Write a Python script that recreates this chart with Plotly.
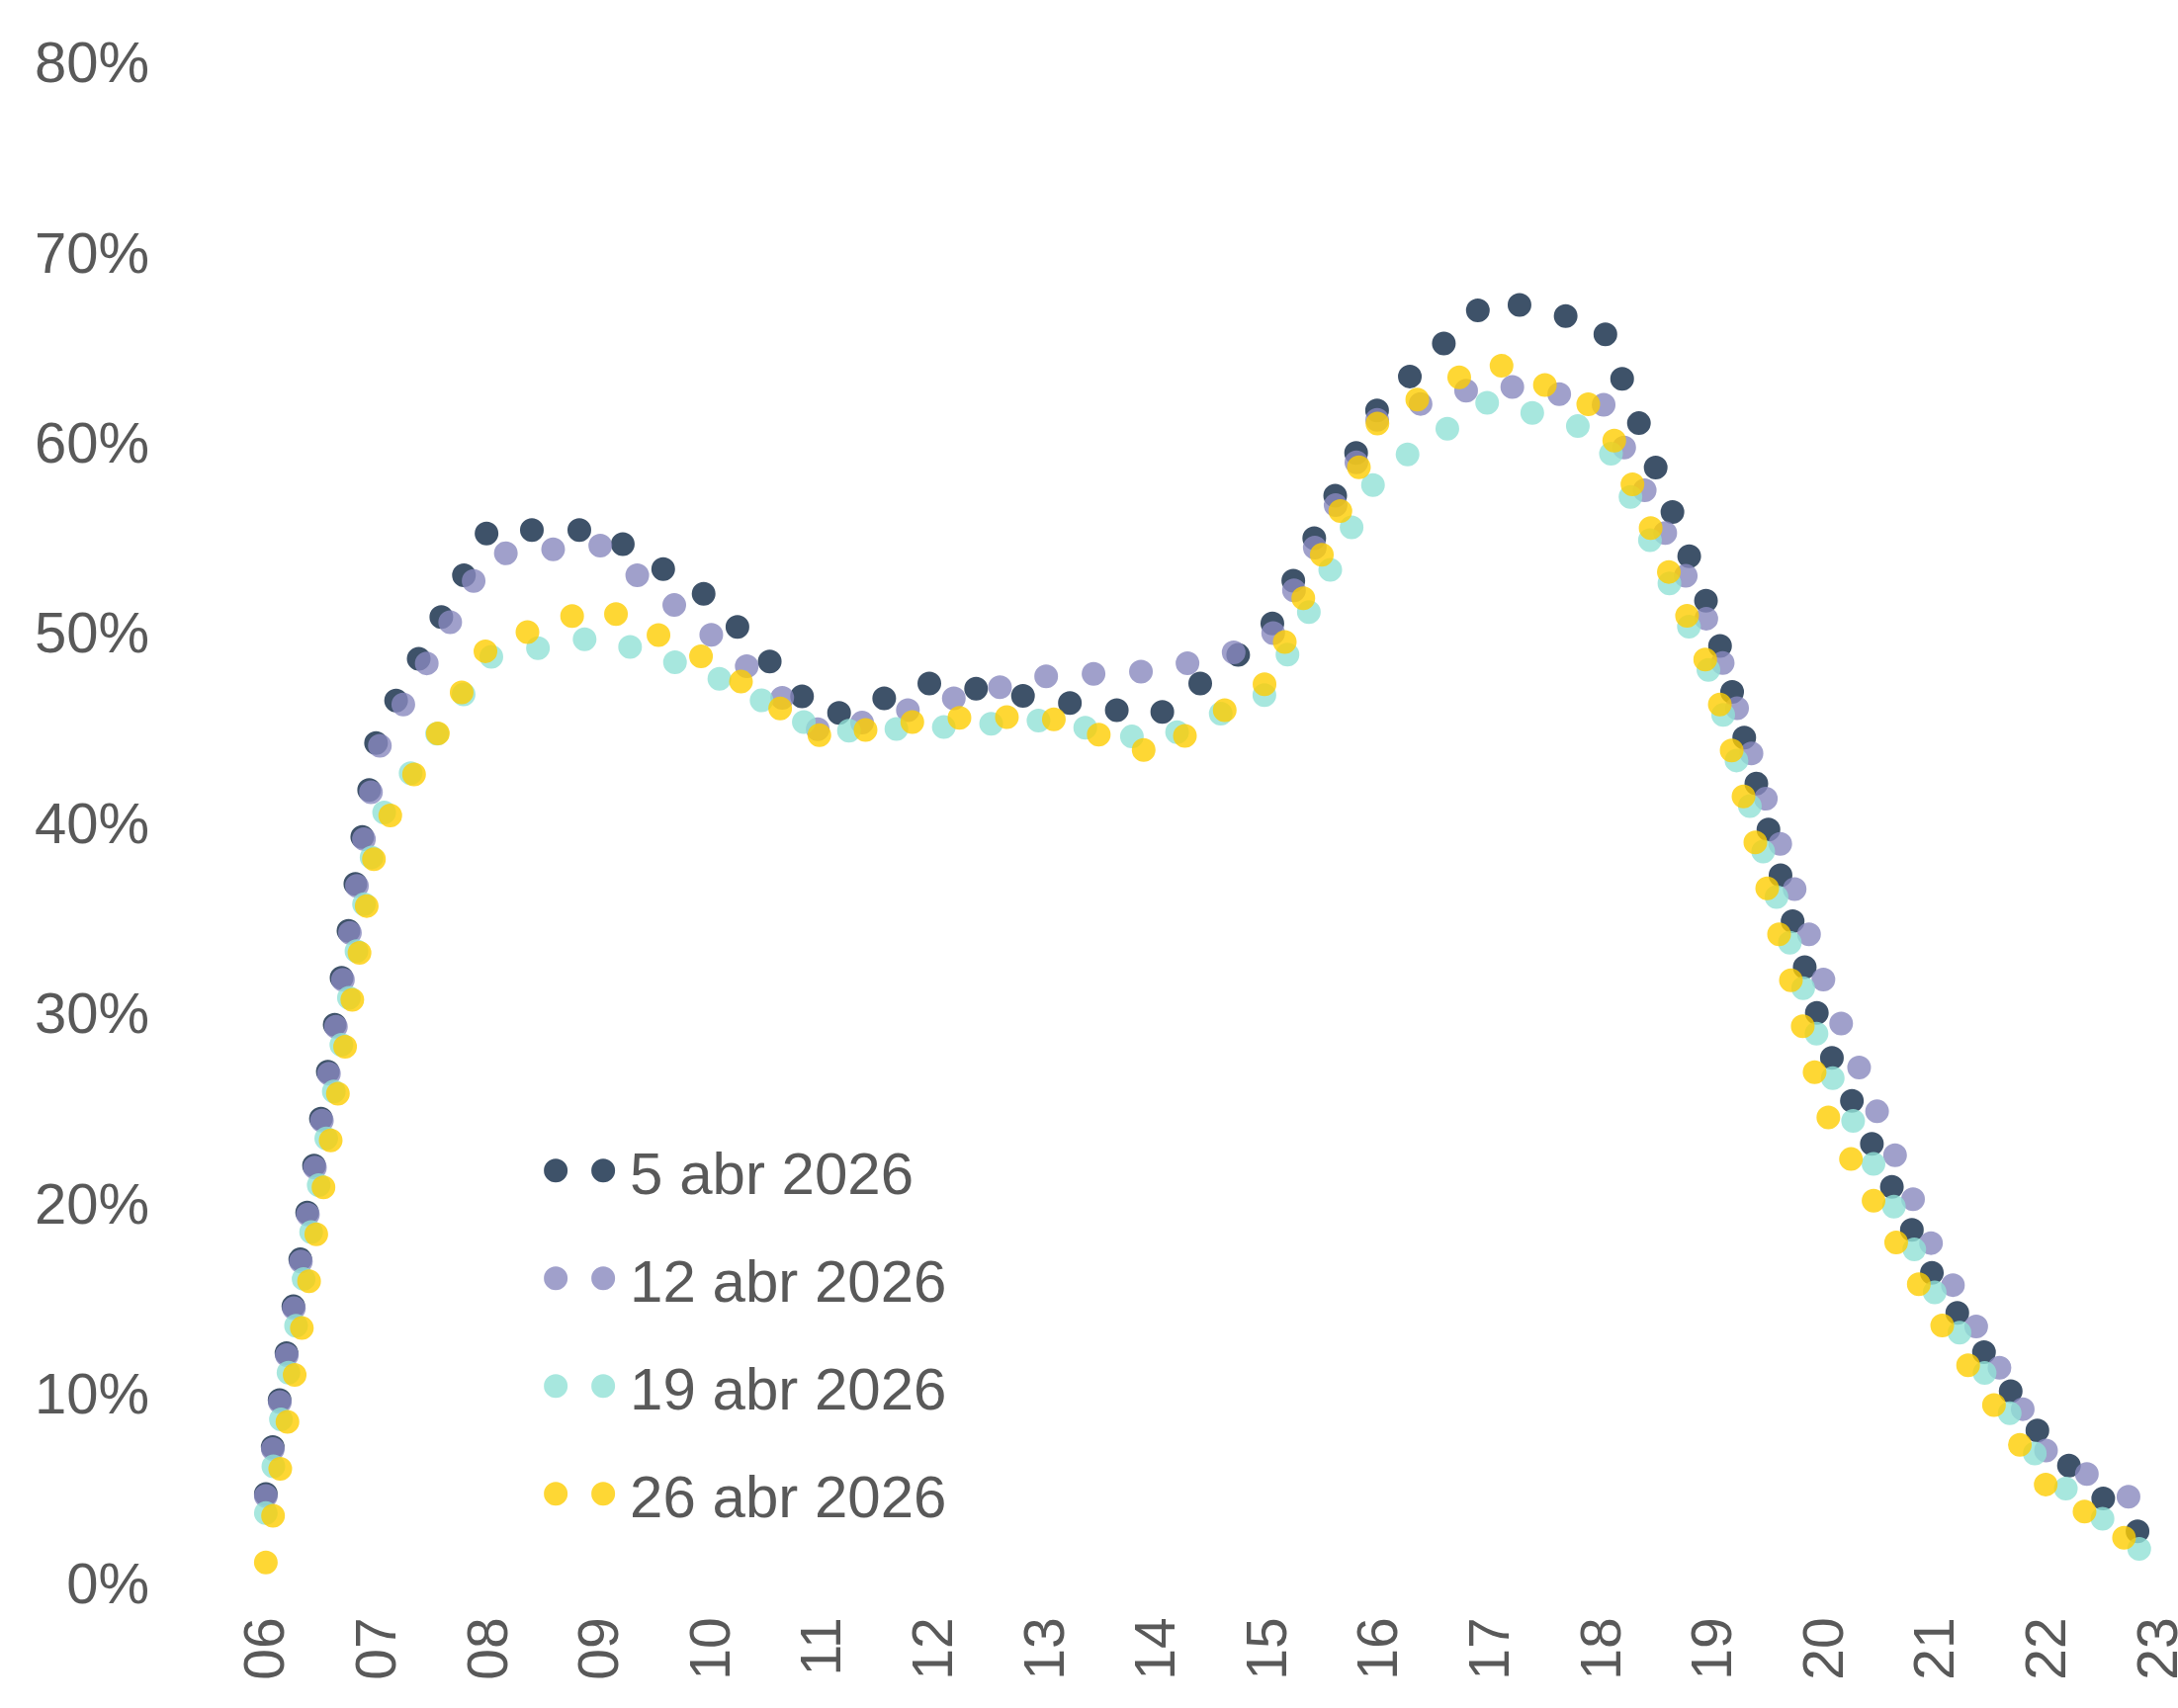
import plotly.graph_objects as go

# Hours of the day (x) and tick labels
hours = list(range(6, 24))
hour_labels = [f"{h:02d}" for h in hours]

# Occupancy (%) per hour
serie_5abr = [4.7, 44.6, 55.4, 55.4, 51.8, 45.5, 47.4, 46.4, 45.6, 50.0,
              61.9, 67.6, 66.2, 50.7, 28.5, 15.9, 7.3, 1.7]
serie_12abr = [4.6, 43.8, 54.1, 54.6, 49.9, 44.7, 46.3, 47.7, 48.0, 49.4,
               61.4, 63.1, 62.2, 50.0, 31.6, 17.3, 6.9, 3.7]
serie_19abr = [3.7, 40.0, 48.7, 49.8, 47.8, 44.8, 45.0, 45.4, 44.3, 46.8,
               58.4, 62.2, 60.5, 47.5, 27.5, 15.2, 5.8, 1.0]
serie_26abr = [1.1, 39.2, 49.3, 51.4, 48.5, 44.5, 45.5, 45.6, 43.6, 47.4,
               61.2, 64.3, 61.7, 47.6, 24.9, 14.1, 5.1, 1.2]

series_names = ["5 abr 2026", "12 abr 2026", "19 abr 2026", "26 abr 2026"]
series_values = [serie_5abr, serie_12abr, serie_19abr, serie_26abr]
series_colors = ["rgba(14,39,67,0.8)", "rgba(136,136,190,0.8)",
                 "rgba(145,225,214,0.8)", "rgba(254,205,1,0.8)"]

y_ticks = list(range(0, 81, 10))
y_labels = [f"{v}%" for v in y_ticks]

TEXT = "#595959"
FONT = "Liberation Sans, Arial, Helvetica, sans-serif"

fig = go.Figure()
for name, vals, col in zip(series_names, series_values, series_colors):
    fig.add_trace(go.Scatter(
        x=hours, y=vals, name=name, mode="lines", legendgroup=name,
        line=dict(color=col, width=24, dash="0px,48px"),
        hoverinfo="skip",
    ))

fig.update_layout(
    width=2203, height=1728,
    margin=dict(l=252, r=3, t=63, b=126),
    paper_bgcolor="white", plot_bgcolor="white",
    font=dict(family=FONT, size=58, color=TEXT),
    showlegend=True,
    legend=dict(
        x=0.1515, y=0.3075, xanchor="left", yanchor="top",
        bgcolor="rgba(0,0,0,0)", bordercolor="rgba(0,0,0,0)", borderwidth=10,
        font=dict(family=FONT, size=60, color=TEXT),
        itemwidth=70, tracegroupgap=28, traceorder="grouped",
    ),
    xaxis=dict(
        range=[5.85, 23.15], tickmode="array", tickvals=hours, ticktext=hour_labels,
        tickangle=-90, showgrid=False, zeroline=False, showline=False, ticks="",
        tickfont=dict(family=FONT, size=57, color=TEXT), ticklabelstandoff=22,
        ticklabeloverflow="allow", automargin=False,
    ),
    yaxis=dict(
        range=[0, 80], tickmode="array", tickvals=y_ticks, ticktext=y_labels,
        showgrid=False, zeroline=False, showline=False, ticks="",
        tickfont=dict(family=FONT, size=58, color=TEXT), ticklabelstandoff=100,
        automargin=False,
    ),
)

css = ("body{margin:0 !important;}"
       ".js-plotly-plot .scatterlayer path.js-line{stroke-linecap:round !important;}"
       ".js-plotly-plot .legend .scrollbox{clip-path:none !important;}"
       ".js-plotly-plot .legendlines path.js-line{stroke-linecap:round !important;"
       "stroke-width:24px !important;}")
post = ("var st=document.createElement('style');st.textContent='" + css +
        "';document.head.appendChild(st);")

fig.write_html("out.html", post_script=post, config={"displayModeBar": False})
